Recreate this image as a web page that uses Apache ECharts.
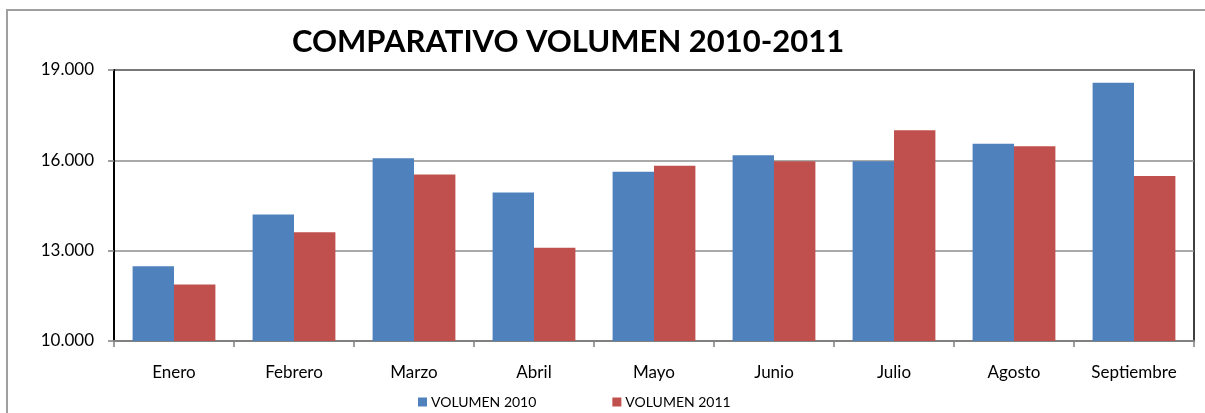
<!DOCTYPE html>
<html>
<head>
<meta charset="utf-8">
<script src="https://cdn.jsdelivr.net/npm/echarts@6/dist/echarts.min.js"></script>
<style>
  html, body { margin: 0; padding: 0; background: #fff; }
  #chart { width: 1205px; height: 413px; }
</style>
</head>
<body>
<div id="chart"></div>
<script>
// meses y volúmenes
var meses = ['Enero', 'Febrero', 'Marzo', 'Abril', 'Mayo', 'Junio', 'Julio', 'Agosto', 'Septiembre'];
var vol2010 = [12480, 14200, 16070, 14930, 15620, 16170, 15970, 16550, 18580];
var vol2011 = [11880, 13610, 15530, 13100, 15820, 15970, 17000, 16470, 15480];
var series1 = 'VOLUMEN 2010';
var series2 = 'VOLUMEN 2011';

var font = 'Lato, "Open Sans", sans-serif';
var chart = echarts.init(document.getElementById('chart'));

var option = {
  animation: false,
  backgroundColor: '#fff',
  title: {
    text: 'COMPARATIVO VOLUMEN 2010-2011',
    left: 287,
    top: 21,
    textStyle: { fontFamily: font, fontWeight: 'bold', fontSize: 31, color: '#000' }
  },
  legend: {
    data: [series1, series2],
    left: 413,
    top: 390,
    itemWidth: 9,
    itemHeight: 9,
    itemGap: 76,
    icon: 'rect',
    textStyle: { fontFamily: font, fontSize: 14, color: '#000', padding: [0, 0, 0, -1] }
  },
  grid: {
    left: 114, right: 11, top: 70, bottom: 72,
    show: true, borderColor: '#000', borderWidth: 1.5
  },
  xAxis: {
    type: 'category',
    data: meses,
    axisLine: { lineStyle: { color: '#808080', width: 2 } },
    axisTick: { show: true, length: 6, lineStyle: { color: '#808080', width: 1.5 } },
    axisLabel: { fontFamily: font, fontSize: 17, color: '#000', margin: 23 }
  },
  yAxis: {
    type: 'value',
    min: 10000, max: 19000, interval: 3000,
    axisLine: { show: true, lineStyle: { color: '#000', width: 2 } },
    axisTick: { show: true, length: 6, lineStyle: { color: '#808080', width: 1.5 } },
    splitLine: { lineStyle: { color: '#8c8c8c', width: 1.5 } },
    axisLabel: {
      fontFamily: font, fontSize: 17, color: '#000', margin: 20,
      formatter: function (v) { return String(v).replace(/\B(?=(\d{3})+(?!\d))/g, '.'); }
    }
  },
  series: [
    { name: series1, type: 'bar', data: vol2010, barGap: '0%', barCategoryGap: '31%',
      itemStyle: { color: '#4F81BD' } },
    { name: series2, type: 'bar', data: vol2011,
      itemStyle: { color: '#C0504D' } }
  ],
  graphic: [{
    type: 'rect',
    shape: { x: 7, y: 10, width: 1400, height: 500 },
    style: { fill: 'none', stroke: '#a0a0a0', lineWidth: 2 },
    silent: true
  }]
};

chart.setOption(option);
</script>
</body>
</html>
